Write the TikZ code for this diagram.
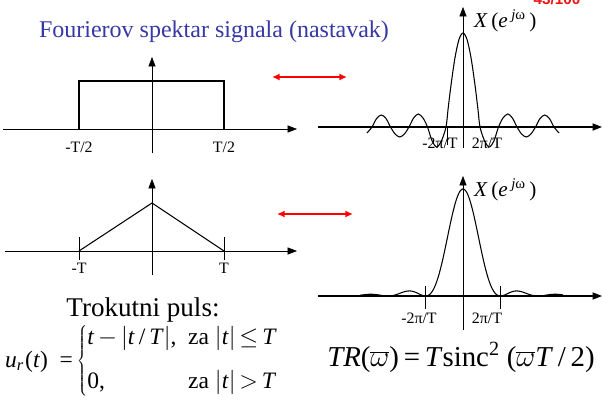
\documentclass[tikz,border=0pt]{standalone}
\usepackage{fontspec}
\setmainfont{Liberation Serif}
\newfontfamily\pagefont{Liberation Sans}
\usetikzlibrary{arrows.meta}
\definecolor{titleblue}{RGB}{55,55,165}
\definecolor{pagered}{RGB}{240,20,20}

\begin{document}
\begin{tikzpicture}[x=0.85pt, y=-0.85pt,
        axis/.style={-{Triangle[length=8pt,width=6pt]}, line width=0.5pt},
        boldaxis/.style={axis, line width=1.3pt},
        signal/.style={line width=1.4pt},
        spectrum/.style={line width=0.9pt},
        pair/.style={{Latex[length=6.5pt,width=6pt]}-{Latex[length=6.5pt,width=6pt]}, draw=red, line width=2pt},
        axlabel/.style={inner sep=0pt, font=\fontsize{13.5}{15}\selectfont},
        speclabel/.style={inner sep=0pt, anchor=west, font=\fontsize{18}{20}\selectfont},
        formula/.style={inner sep=0pt, font=\fontsize{20}{24}\selectfont}]
        \useasboundingbox (0,0) rectangle (602,406);

        % Title and page number
        \node[inner sep=0pt, anchor=base, text=titleblue, font=\fontsize{20.4}{24}\selectfont] (title) at (214,38) {Fourierov spektar signala (nastavak)};
        \node[inner sep=0pt, anchor=base, text=pagered, font=\pagefont\bfseries\fontsize{13}{15}\selectfont] (page) at (557,5) {43/100};

        % Rectangular pulse
        \coordinate (rx0) at (3,129);   \coordinate (rx1) at (297,129);
        \coordinate (ry0) at (152,153); \coordinate (ry1) at (152,57);
        \draw[axis] (rx0) -- (rx1);
        \draw[axis] (ry0) -- (ry1);
        \draw[signal] (79,129) -- (79,81) -- (224,81) -- (224,129);
        \node[axlabel] (rleft) at (79,147) {-T/2};
        \node[axlabel] (rright) at (224,147) {T/2};

        % Triangular pulse
        \coordinate (tx0) at (5,251);   \coordinate (tx1) at (297,251);
        \coordinate (ty0) at (152,275); \coordinate (ty1) at (152,179);
        \draw[axis] (tx0) -- (tx1);
        \draw[axis] (ty0) -- (ty1);
        \draw[line width=0.5pt] (79,237) -- (79,260) (224,237) -- (224,260);
        \draw[line width=0.9pt] (79,251) -- (152,203) -- (224,251);
        \node[axlabel] (tleft) at (79,268) {-T};
        \node[axlabel] (tright) at (224,268) {T};

        % Transform pairs
        \coordinate (p1a) at (272,77);  \coordinate (p1b) at (347,77);
        \coordinate (p2a) at (277,214); \coordinate (p2b) at (353,214);
        \draw[pair] (p1a) -- (p1b);
        \draw[pair] (p2a) -- (p2b);

        % Spectrum of rectangular pulse
        \coordinate (sx0) at (318,127); \coordinate (sx1) at (602,127);
        \coordinate (sy0) at (463,148); \coordinate (sy1) at (463,7);
        \draw[boldaxis] (sx0) -- (sx1);
        \draw[axis] (sy0) -- (sy1);
        \begin{scope}[shift={(463,127)}, yscale=-1]
            \draw[spectrum] plot[smooth] coordinates {
                (-96,-6) (-91,0) (-86.4,8.5) (-81.75,12) (-77,8.5) (-72.5,0)
                (-67.9,-7) (-63.25,-10) (-58.6,-7) (-54,0) (-49.4,9) (-44.75,13) (-40,9)
                (-35.5,0) (-30.9,-14) (-26.25,-20) (-21.6,-14) (-17,0)
                (-15,17.3) (-12,41.9) (-8,69.4) (-4,87.6) (0,94)
                (4,87.6) (8,69.4) (12,41.9) (15,17.3) (17,0)
                (21.6,-14) (26.25,-20) (30.9,-14) (35.5,0)
                (40,9) (44.75,13) (49.4,9) (54,0) (58.6,-7) (63.25,-10) (67.9,-7)
                (72.5,0) (77,8.5) (81.75,12) (86.4,8.5) (91,0) (96,-6)};
        \end{scope}
        \draw[line width=0.5pt] (447,127) -- (447,145);
        \node[speclabel] (srect) at (474,21) {\textit{X}\,(\textit{e}\,\textsuperscript{\textit{j}ω}\,)};
        \node[axlabel] (sleft) at (440,143) {-2π/T};
        \node[axlabel] (sright) at (487,143) {2π/T};

        % Spectrum of triangular pulse
        \coordinate (qx0) at (318,296); \coordinate (qx1) at (602,296);
        \coordinate (qy0) at (463,330); \coordinate (qy1) at (463,176);
        \draw[boldaxis] (qx0) -- (qx1);
        \draw[axis] (qy0) -- (qy1);
        \begin{scope}[shift={(463,296)}, yscale=-1]
            \draw[spectrum] plot[domain=-103:100, samples=200, smooth] (\x, {107*(sin(4.8*\x)/(0.0837758*\x))^2});
        \end{scope}
        \draw[line width=0.5pt] (425,286) -- (425,309) (500,286) -- (500,309);
        \node[speclabel] (stri) at (474,190) {\textit{X}\,(\textit{e}\,\textsuperscript{\textit{j}ω}\,)};
        \node[axlabel] (qleft) at (419,318) {-2π/T};
        \node[axlabel] (qright) at (487,318) {2π/T};

        % Formulas
        \node[inner sep=0pt, anchor=base, font=\fontsize{23}{27}\selectfont] (pulse) at (143,316) {Trokutni puls:};
        \node[formula, anchor=base west] (ur) at (5,367) {\textit{u}\textsubscript{\textit{r}}\kern1pt(\textit{t})\enspace=\,$\left\{\begin{tabular}{@{}l@{\hspace{0.5em}}l@{}}\textit{t}\,$-$\,$|$\textit{t}\,/\,\textit{T}$|$, & za $|$\textit{t}$|$\,$\le$\,\textit{T}\\[14pt] 0, & za $|$\textit{t}$|$\,$>$\,\textit{T}\end{tabular}\right.$};
        \node[formula, anchor=base, font=\fontsize{24.5}{28}\selectfont] (tr) at (461,366) {\textit{TR}($\overline{\omega}$)\,=\,\textit{T}sinc\textsuperscript{2} ($\overline{\omega}$\textit{T}\,/\,2)};
\end{tikzpicture}
\end{document}
